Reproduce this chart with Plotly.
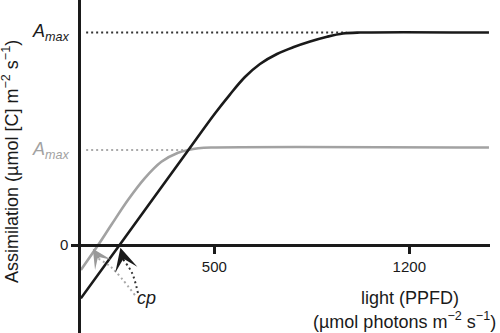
import plotly.graph_objects as go

# ---- data ----
# light (PPFD, µmol photons m-2 s-1) and assimilation (arbitrary units) for two leaves
ppfd_high = [21, 160, 400, 503, 556, 610, 664, 725, 783, 844, 905, 962, 1023, 1486]
assim_high = [-5.02, 0.0, 8.69, 12.40, 14.16, 15.81, 17.04, 17.98, 18.61, 19.15, 19.60, 19.91, 20.0, 20.0]

ppfd_low = [21, 83, 130, 190, 250, 310, 370, 406, 442, 488, 1486]
assim_low = [-2.35, 0.0, 1.88, 4.24, 6.28, 7.84, 8.69, 8.94, 9.10, 9.18, 9.18]

amax_high = 20.0
amax_low = 8.94
amax_high_end = 975
amax_low_end = 406
dotted_start = 40

x_ticks = [500, 1200]
x_tick_labels = ["500", "1200"]
y_ticks = [0]
y_tick_labels = ["0"]

# compensation-point arrows (shaft points and tip)
cp_high_shaft_x = [226, 205, 182]
cp_high_shaft_y = [-4.52, -2.64, -1.7]
cp_high_tip = (163, -0.25)
cp_low_shaft_x = [215, 133, 85]
cp_low_shaft_y = [-4.71, -2.16, -1.3]
cp_low_tip = (64, -0.35)
cp_label_pos = (258, -4.99)

BLACK = "#1a1a1a"
GRAY = "#a2a2a2"
FONT = "Liberation Sans, Arial, Helvetica, sans-serif"

fig = go.Figure()

# Amax dotted reference lines
fig.add_trace(go.Scatter(x=[dotted_start, amax_high_end], y=[amax_high, amax_high], mode="lines",
                         line=dict(color="#333333", width=2, dash="2px,3px"), hoverinfo="skip"))
fig.add_trace(go.Scatter(x=[dotted_start, amax_low_end], y=[amax_low, amax_low], mode="lines",
                         line=dict(color="#aaaaaa", width=2, dash="2px,3px"), hoverinfo="skip"))

# light response curves
fig.add_trace(go.Scatter(x=ppfd_low, y=assim_low, mode="lines",
                         line=dict(color=GRAY, width=2.6, shape="spline", smoothing=1.0), hoverinfo="skip"))
fig.add_trace(go.Scatter(x=ppfd_high, y=assim_high, mode="lines",
                         line=dict(color=BLACK, width=2.6, shape="spline", smoothing=1.0), hoverinfo="skip"))

# dotted arrow shafts
fig.add_trace(go.Scatter(x=cp_low_shaft_x, y=cp_low_shaft_y, mode="lines",
                         line=dict(color="#aaaaaa", width=2, dash="2px,3px", shape="spline"), hoverinfo="skip"))
fig.add_trace(go.Scatter(x=cp_high_shaft_x, y=cp_high_shaft_y, mode="lines",
                         line=dict(color="#333333", width=2, dash="2px,3px", shape="spline"), hoverinfo="skip"))

annotations = []
# arrow heads
annotations.append(dict(x=cp_high_tip[0], y=cp_high_tip[1], xref="x", yref="y", text="",
                        showarrow=True, arrowhead=3, arrowsize=1.9, arrowwidth=2, arrowcolor=BLACK,
                        ax=4, ay=15, standoff=0))
annotations.append(dict(x=cp_low_tip[0], y=cp_low_tip[1], xref="x", yref="y", text="",
                        showarrow=True, arrowhead=3, arrowsize=1.6, arrowwidth=2, arrowcolor="#999999",
                        ax=7, ay=11, standoff=0))
# cp label
annotations.append(dict(x=cp_label_pos[0], y=cp_label_pos[1], xref="x", yref="y", text="<i>cp</i>",
                        showarrow=False, font=dict(family=FONT, size=18, color=BLACK)))
# Amax labels
annotations.append(dict(x=0, y=amax_high, xref="paper", yref="y", text="<i>A<sub>max</sub></i>",
                        showarrow=False, xanchor="right", yanchor="middle", xshift=-9,
                        font=dict(family=FONT, size=18, color=BLACK)))
annotations.append(dict(x=0, y=amax_low, xref="paper", yref="y", text="<i>A<sub>max</sub></i>",
                        showarrow=False, xanchor="right", yanchor="middle", xshift=-9,
                        font=dict(family=FONT, size=18, color=GRAY)))
# axis titles
annotations.append(dict(x=0, y=0.5135, xref="paper", yref="paper",
                        text="Assimilation (µmol [C] m<sup>−2</sup> s<sup>−1</sup>)",
                        textangle=-90, showarrow=False, xanchor="center", yanchor="middle", xshift=-71,
                        font=dict(family=FONT, size=18, color=BLACK)))
annotations.append(dict(x=0.804, y=0.105, xref="paper", yref="paper", text="light (PPFD)",
                        showarrow=False, xanchor="center", yanchor="middle",
                        font=dict(family=FONT, size=18, color=BLACK)))
annotations.append(dict(x=0.792, y=0.039, xref="paper", yref="paper",
                        text="(µmol photons m<sup>−2</sup> s<sup>−1</sup>)",
                        showarrow=False, xanchor="center", yanchor="middle",
                        font=dict(family=FONT, size=18, color=BLACK)))

fig.update_layout(
    width=500, height=333,
    margin=dict(l=81, r=10, t=0, b=0),
    paper_bgcolor="white", plot_bgcolor="white",
    showlegend=False,
    annotations=annotations,
    xaxis=dict(range=[21.5, 1489.7], anchor="free", position=0.2643,
               showline=True, linewidth=2.5, linecolor=BLACK,
               ticks="outside", ticklen=7, tickwidth=2.5, tickcolor=BLACK,
               tickvals=x_ticks, ticktext=x_tick_labels,
               tickfont=dict(family=FONT, size=15, color=BLACK),
               showgrid=False, zeroline=False, automargin=False),
    yaxis=dict(range=[-8.28, 23.06],
               showline=True, linewidth=2.5, linecolor=BLACK,
               ticks="outside", ticklen=7, tickwidth=2.5, tickcolor=BLACK,
               tickvals=y_ticks, ticktext=y_tick_labels,
               tickfont=dict(family=FONT, size=15, color=BLACK),
               showgrid=False, zeroline=False, automargin=False),
)

fig.write_html("out.html", config={"displayModeBar": False},
               post_script="document.body.style.margin='0px';document.body.style.overflow='hidden';")
